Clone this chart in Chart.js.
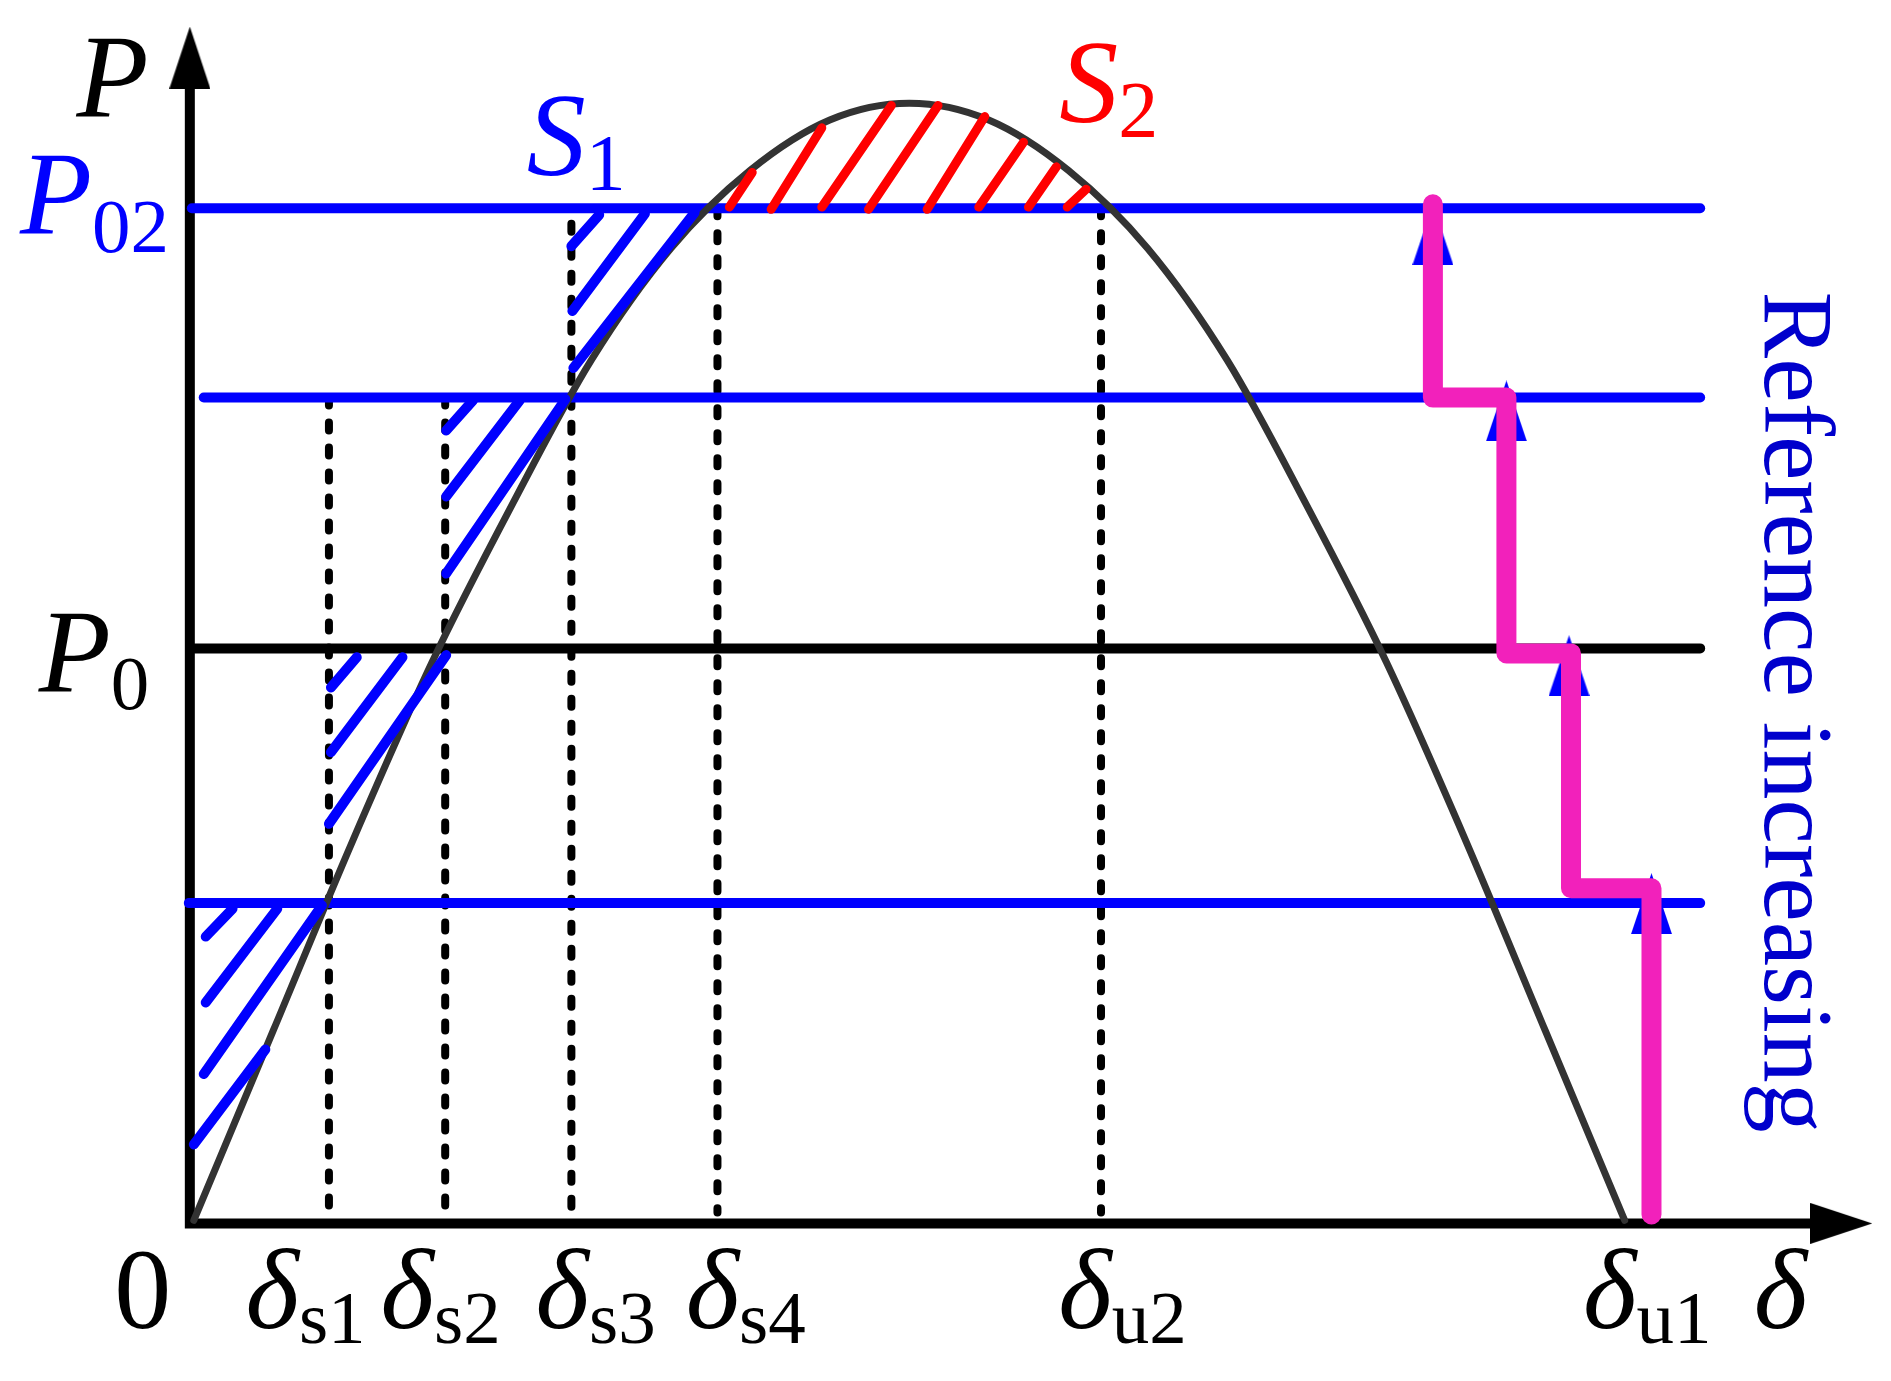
<!DOCTYPE html>
<html>
<head>
<meta charset="utf-8">
<title>Power-angle curve with reference steps</title>
<script src="https://cdn.jsdelivr.net/npm/chart.js@4.4.1/dist/chart.umd.min.js"></script>
<style>
  html, body { margin: 0; padding: 0; background: #fff; overflow: hidden; }
  #wrap { position: relative; width: 1891px; height: 1381px; }
</style>
</head>
<body>
<div id="wrap"><canvas id="paChart"></canvas></div>
<script>
// Power-angle curve (delta in degrees, P relative to Pmax)
const curveDelta = [0, 10, 20, 30, 40, 50, 60, 70, 80, 90, 100, 110, 120, 130, 140, 150, 160, 170, 180];
const curvePower = [0, 0.17, 0.34, 0.5, 0.64, 0.77, 0.87, 0.94, 0.985, 1, 0.985, 0.94, 0.87, 0.77, 0.64, 0.5, 0.34, 0.17, 0];

// Horizontal power levels: P02, intermediate, P0, lowest
const levelPower = [0.906, 0.7365, 0.512, 0.284];
const levelFrom = [-0.25, 1.25, 0.125, -0.625];
const levelTo = [189.5, 189.5, 189.5, 189.5];

// Dashed projections down to the delta axis (ds1, ds2, ds3, ds4, du2)
const dashDelta = [17.0, 31.625, 47.5, 65.875, 114.125];
const dashTop = [0.7365, 0.7365, 0.892, 0.906, 0.906];
const dashBottom = [0.007, 0.007, 0.007, 0.007, 0.007];

// Hatch strokes [delta1, P1, delta2, P2]
const s1Hatch = [
  [1.5, 0.254, 4.875, 0.279],
  [1.5, 0.195, 10.5, 0.279],
  [1.25, 0.131, 16.125, 0.282],
  [0, 0.068, 9.0, 0.153],
  [17.25, 0.477, 20.5, 0.504],
  [17.25, 0.419, 26.25, 0.504],
  [17.0, 0.355, 31.75, 0.506],
  [31.75, 0.707, 35.125, 0.734],
  [31.75, 0.648, 41.0, 0.734],
  [31.75, 0.579, 46.75, 0.735],
  [47.5, 0.872, 51.0, 0.9],
  [47.625, 0.814, 56.75, 0.901],
  [47.75, 0.763, 63.0, 0.902]
];
const s2Hatch = [
  [67.375, 0.907, 70.25, 0.938],
  [72.625, 0.905, 79.0, 0.978],
  [79.0, 0.907, 87.75, 0.998],
  [84.875, 0.905, 93.625, 0.998],
  [92.25, 0.905, 99.5, 0.988],
  [98.75, 0.907, 104.375, 0.965],
  [105.0, 0.907, 108.5, 0.943],
  [109.875, 0.907, 112.25, 0.923]
];

// Reference increasing staircase and its arrows
const stepDelta = [155.875, 155.875, 165.125, 165.125, 173.25, 173.25, 183.375, 183.375];
const stepPower = [0.9095, 0.7365, 0.7365, 0.5075, 0.5075, 0.2973, 0.2973, 0.0053];
const arrowDelta = [155.875, 165.125, 173.0, 183.375];
const arrowPower = [0.8824, 0.7245, 0.4965, 0.2835];

// Axes
const axisDelta = [-0.5, -0.5, 203.4];
const axisPower = [1.013, -0.0027, -0.0027];
const axisHeadDelta = [-0.5, 207.25];
const axisHeadPower = [1.0408, -0.0027];

// Tick labels under the delta axis
const tickText = ["0", "δ", "δ", "δ", "δ", "δ", "δ", "δ"];
const tickSub = ["", "s1", "s2", "s3", "s4", "u2", "u1", ""];

const SERIF = "'Liberation Serif', 'Times New Roman', serif";
const BLUE = "#0000FF";

function xy(ds, ps) {
  return ds.map((d, i) => ({ x: d, y: ps[i] }));
}

function triangle(w, h, color, dir) {
  const c = document.createElement("canvas");
  c.width = w;
  c.height = h;
  const g = c.getContext("2d");
  g.fillStyle = color;
  g.beginPath();
  if (dir === "up") {
    g.moveTo(w / 2, 0); g.lineTo(w, h); g.lineTo(0, h);
  } else {
    g.moveTo(w, h / 2); g.lineTo(0, h); g.lineTo(0, 0);
  }
  g.closePath();
  g.fill();
  return c;
}

const lineBase = { showLine: true, pointRadius: 0, fill: false, clip: false, borderCapStyle: "round" };

const datasets = [];

datasets.push({
  ...lineBase, label: "reference", order: 0,
  data: xy(stepDelta, stepPower),
  borderColor: "#F221BB", borderWidth: 20, borderJoinStyle: "round"
});

datasets.push({
  label: "arrows", order: 1, showLine: false, clip: false,
  data: xy(arrowDelta, arrowPower),
  pointStyle: triangle(41, 61, BLUE, "up"), pointRadius: 5
});

s1Hatch.forEach(h => datasets.push({
  ...lineBase, label: "S1", order: 2,
  data: [{ x: h[0], y: h[1] }, { x: h[2], y: h[3] }],
  borderColor: BLUE, borderWidth: 10
}));

s2Hatch.forEach(h => datasets.push({
  ...lineBase, label: "S2", order: 2,
  data: [{ x: h[0], y: h[1] }, { x: h[2], y: h[3] }],
  borderColor: "#FF0000", borderWidth: 9
}));

datasets.push({
  ...lineBase, label: "P-delta", order: 3,
  data: xy(curveDelta, curvePower),
  borderColor: "#333333", borderWidth: 7, cubicInterpolationMode: "monotone"
});

const levelColors = [BLUE, BLUE, "#000000", BLUE];
levelPower.forEach((p, i) => datasets.push({
  ...lineBase, label: "level" + i, order: 4,
  data: [{ x: levelFrom[i], y: p }, { x: levelTo[i], y: p }],
  borderColor: levelColors[i], borderWidth: 10
}));

dashDelta.forEach((d, i) => datasets.push({
  ...lineBase, label: "dash" + i, order: 5,
  data: [{ x: d, y: dashTop[i] }, { x: d, y: dashBottom[i] }],
  borderColor: "#000000", borderWidth: 8, borderDash: [8, 17]
}));

datasets.push({
  ...lineBase, label: "axes", order: 6,
  data: xy(axisDelta, axisPower),
  borderColor: "#000000", borderWidth: 10, borderCapStyle: "butt", borderJoinStyle: "miter"
});

datasets.push({
  label: "axisHeadY", order: 6, showLine: false, clip: false,
  data: [{ x: axisHeadDelta[0], y: axisHeadPower[0] }],
  pointStyle: triangle(41, 62, "#000000", "up"), pointRadius: 5
});
datasets.push({
  label: "axisHeadX", order: 6, showLine: false, clip: false,
  data: [{ x: axisHeadDelta[1], y: axisHeadPower[1] }],
  pointStyle: triangle(62, 41, "#000000", "right"), pointRadius: 5
});

// Text placement (data coordinates of the text baseline start)
const tickSpots = [-10.0, 6.5, 23.5, 43.0, 61.875, 108.75, 174.75, 196.25];
const tickBaseline = -0.0967;
const textItems = [
  { text: "P", x: -14.75, y: 0.9876, color: "#000000", size: 118 },
  { text: "P", sub: "02", x: -21.875, y: 0.8829, color: BLUE, size: 118, subSize: 77, drop: 18 },
  { text: "P", sub: "0", x: -19.5, y: 0.4729, color: "#000000", size: 118, subSize: 77, drop: 17 },
  { text: "S", sub: "1", x: 41.875, y: 0.9361, color: BLUE, size: 118, subSize: 80, drop: 15 },
  { text: "S", sub: "2", x: 108.875, y: 0.9831, color: "#FF0000", size: 118, subSize: 80, drop: 15 }
];
tickText.forEach((t, i) => textItems.push({
  text: t, sub: tickSub[i], x: tickSpots[i], y: tickBaseline,
  color: "#000000", size: t === "0" ? 114 : 115, subSize: 75, drop: 15, upright: t === "0"
}));

const textPlugin = {
  id: "textPlugin",
  afterDatasetsDraw(chart) {
    const { ctx } = chart;
    const sx = chart.scales.x, sy = chart.scales.y;
    ctx.save();
    ctx.textAlign = "left";
    ctx.textBaseline = "alphabetic";
    textItems.forEach(t => {
      const px = sx.getPixelForValue(t.x);
      const py = sy.getPixelForValue(t.y);
      ctx.fillStyle = t.color;
      ctx.font = (t.upright ? "" : "italic ") + t.size + "px " + SERIF;
      ctx.fillText(t.text, px, py);
      if (t.sub) {
        const w = ctx.measureText(t.text).width;
        ctx.font = t.subSize + "px " + SERIF;
        ctx.fillText(t.sub, px + w, py + t.drop);
      }
    });
    // vertical note beside the staircase
    ctx.translate(sx.getPixelForValue(197.625), sy.getPixelForValue(0.8314));
    ctx.rotate(Math.PI / 2);
    ctx.fillStyle = "#0000CC";
    ctx.font = "100px " + SERIF;
    ctx.fillText("Reference increasing", 0, 0);
    ctx.restore();
  }
};

const config = {
  type: "scatter",
  data: { datasets: datasets },
  options: {
    responsive: true,
    maintainAspectRatio: false,
    animation: false,
    events: [],
    layout: { padding: 0 },
    plugins: {
      legend: { display: false },
      tooltip: { enabled: false }
    },
    scales: {
      x: { type: "linear", min: -23.625, max: 212.75, display: false },
      y: { type: "linear", min: -0.1384, max: 1.087, display: false }
    }
  },
  plugins: [textPlugin]
};

const paChart = new Chart(document.getElementById("paChart"), config);
</script>
</body>
</html>
